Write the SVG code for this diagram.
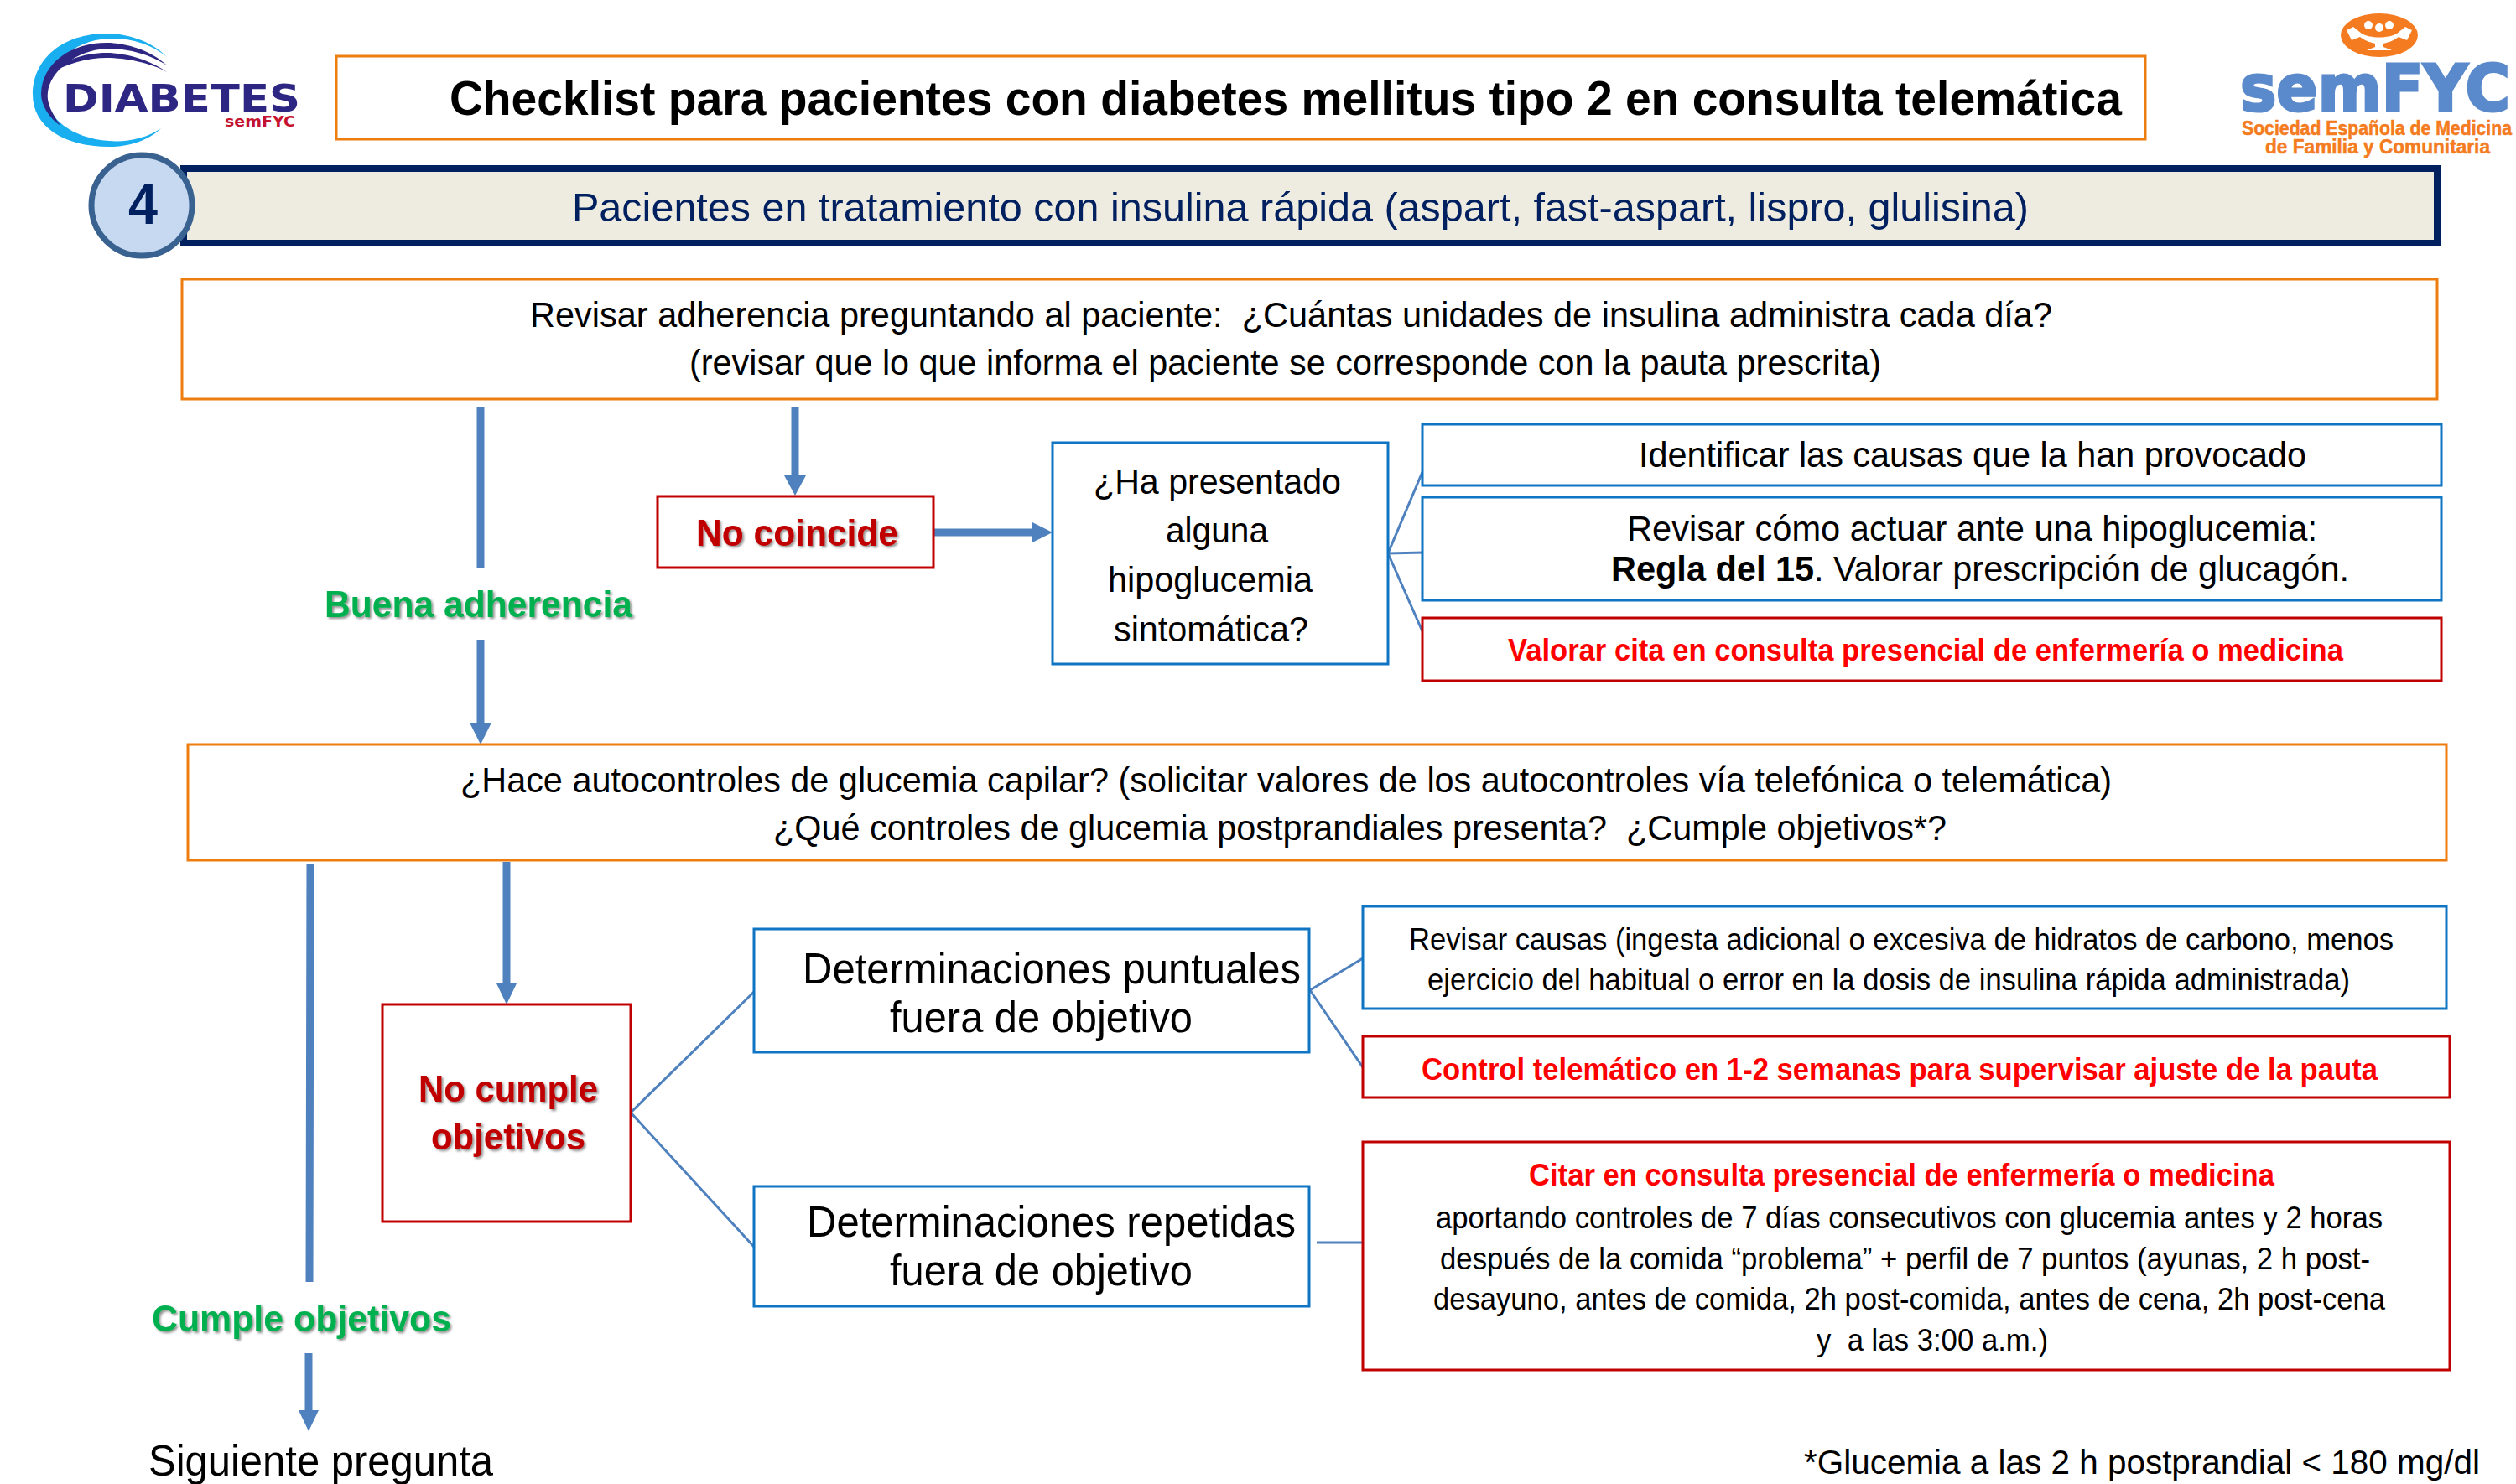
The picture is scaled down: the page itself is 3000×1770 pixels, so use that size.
<svg xmlns="http://www.w3.org/2000/svg" width="3000" height="1770" viewBox="0 0 3000 1770">
<style>
text{font-family:"Liberation Sans",Arial,sans-serif;fill:#000;white-space:pre}
.b{font-weight:700}
.dj{font-family:"DejaVu Sans",sans-serif;font-weight:700}
.o{fill:#fff;stroke:#ED7D0E;stroke-width:3}
.bl{fill:#fff;stroke:#0F75C3;stroke-width:3}
.r{fill:#fff;stroke:#C00000;stroke-width:3}
.t42{font-size:42px}
.t40{font-size:40px}
.t36{font-size:36px}
.t52{font-size:52px}
.red{fill:#FF0000;font-weight:700;font-size:36px}
.dr{fill:#C00000;font-weight:700;font-size:44px;filter:url(#sh)}
.gr{fill:#00B050;font-weight:700;font-size:44px;filter:url(#sh)}
.og{fill:#F47B20;font-weight:700;font-size:23px;stroke:#F47B20;stroke-width:.5}
.ar{fill:none;stroke:#4E81BD;stroke-width:9}
.th{fill:none;stroke:#4E81BD;stroke-width:3}
.hd{fill:#4E81BD}
</style>
<defs>
<filter id="sh" x="-10%" y="-20%" width="120%" height="140%"><feDropShadow dx="2" dy="2" stdDeviation="1.5" flood-color="#000" flood-opacity="0.45"/></filter>
</defs>
<g id="logo-diabetes">
<path d="M199 68C180 48 150 40 127 40C75 40 39 70 39 113C39 150 75 175 130 175C155 175 178 167 192 153C175 165 150 170 130 168C85 165 55 140 55 113C55 80 85 48 130 46C155 45 180 52 199 68Z" fill="#18AEEF"/>
<path d="M199 78C180 60 150 51 127 51C85 51 50 75 49 112C49 125 58 140 72 150C62 135 55 122 57 110C60 85 90 60 127 58C150 57 180 65 199 78Z" fill="#2E2683"/>
<path d="M199 86C180 72 150 63 127 63C100 63 75 72 60 88C78 76 105 69 127 69C150 69 180 75 199 86Z" fill="#2E2683"/>
<text x="75" y="133" font-size="45" class="dj" style="fill:#2E2683" textLength="283" lengthAdjust="spacingAndGlyphs">DIABETES</text>
<text x="268" y="151" font-size="17" class="dj" style="fill:#C4122F" textLength="84" lengthAdjust="spacingAndGlyphs">semFYC</text>
</g>
<g id="logo-semfyc">
<ellipse cx="2837" cy="42" rx="46" ry="26" fill="#F47B20"/>
<path d="M2798 36L2806 32L2816 40C2826 46 2848 46 2858 40L2868 32L2876 36L2870 48L2860 44C2852 50 2845 51 2842 52V56L2852 60H2822L2832 56V52C2829 51 2822 50 2814 44L2804 48Z" fill="#fff"/>
<circle cx="2824" cy="30" r="5" fill="#fff"/><circle cx="2837" cy="33" r="5" fill="#fff"/><circle cx="2849" cy="30" r="5" fill="#fff"/>
<text x="2671" y="132" font-size="77" class="dj" style="fill:#5A8ACB;stroke:#5A8ACB;stroke-width:3" textLength="322" lengthAdjust="spacingAndGlyphs">semFYC</text>
<text x="2673" y="161" class="og" textLength="322" lengthAdjust="spacingAndGlyphs">Sociedad Española de Medicina</text>
<text x="2701" y="183" class="og" textLength="268" lengthAdjust="spacingAndGlyphs">de Familia y Comunitaria</text>
</g>
<g id="connectors">
<path class="ar" d="M573 486V677M573 763V864M948 486V570M1114 635H1232M604 1028V1176M370 1030L369 1529M368 1614V1684"/>
<path class="hd" d="M560 862H586L573 888ZM935 567H961L948 591ZM1231 623L1255 635L1231 647ZM592 1173H616L604 1198ZM356 1682H380L368 1707Z"/>
<path class="th" d="M1696 563L1655 660L1698 659M1655 660L1696 753M752 1327L899 1183M752 1327L899 1487M1562 1181L1625 1143M1562 1181L1625 1273M1570 1482H1624"/>
</g>
<g id="title"><rect class="o" x="401" y="67" width="2157" height="99"/>
<text class="b" x="536" y="137" font-size="58" textLength="1994" lengthAdjust="spacingAndGlyphs">Checklist para pacientes con diabetes mellitus tipo 2 en consulta telemática</text></g>
<g id="banner"><rect x="219" y="201" width="2687" height="89" fill="#EEEBE0" stroke="#002060" stroke-width="8"/>
<text x="682" y="264" font-size="48" style="fill:#002060" textLength="1737" lengthAdjust="spacingAndGlyphs">Pacientes en tratamiento con insulina rápida (aspart, fast-aspart, lispro, glulisina)</text></g>
<g id="step"><circle cx="169" cy="245" r="60" fill="#C6D9F1" stroke="#3A6291" stroke-width="7"/>
<text x="153" y="267" class="b" font-size="68" style="fill:#002060" textLength="35" lengthAdjust="spacingAndGlyphs">4</text></g>
<g id="adherencia"><rect class="o" x="217" y="333" width="2689" height="143"/>
<text class="t42" x="632" y="390" textLength="1815" lengthAdjust="spacingAndGlyphs">Revisar adherencia preguntando al paciente:  ¿Cuántas unidades de insulina administra cada día?</text>
<text class="t42" x="822" y="447" textLength="1421" lengthAdjust="spacingAndGlyphs">(revisar que lo que informa el paciente se corresponde con la pauta prescrita)</text></g>
<g id="no-coincide"><rect class="r" x="784" y="592" width="329" height="85"/>
<text class="dr" x="830" y="651" textLength="241" lengthAdjust="spacingAndGlyphs">No coincide</text></g>
<g id="buena"><text class="gr" x="387" y="736" textLength="367" lengthAdjust="spacingAndGlyphs">Buena adherencia</text></g>
<g id="hipo"><rect class="bl" x="1255" y="528" width="400" height="264"/>
<text class="t42" x="1304" y="589" textLength="295" lengthAdjust="spacingAndGlyphs">¿Ha presentado</text>
<text class="t42" x="1390" y="647" textLength="122" lengthAdjust="spacingAndGlyphs">alguna</text>
<text class="t42" x="1321" y="706" textLength="244" lengthAdjust="spacingAndGlyphs">hipoglucemia</text>
<text class="t42" x="1328" y="765" textLength="232" lengthAdjust="spacingAndGlyphs">sintomática?</text></g>
<g id="identificar"><rect class="bl" x="1696" y="506" width="1215" height="73"/>
<text class="t42" x="1954" y="557" textLength="796" lengthAdjust="spacingAndGlyphs">Identificar las causas que la han provocado</text></g>
<g id="regla"><rect class="bl" x="1696" y="593" width="1215" height="123"/>
<text class="t42" x="1940" y="645" textLength="823" lengthAdjust="spacingAndGlyphs">Revisar cómo actuar ante una hipoglucemia:</text>
<text class="t42" x="1921" y="693" textLength="880" lengthAdjust="spacingAndGlyphs"><tspan class="b">Regla del 15</tspan>. Valorar prescripción de glucagón.</text></g>
<g id="valorar"><rect class="r" x="1696" y="737" width="1215" height="75"/>
<text class="red" x="1798" y="788" textLength="996" lengthAdjust="spacingAndGlyphs">Valorar cita en consulta presencial de enfermería o medicina</text></g>
<g id="autocontroles"><rect class="o" x="224" y="888" width="2693" height="138"/>
<text class="t42" x="549" y="945" textLength="1969" lengthAdjust="spacingAndGlyphs">¿Hace autocontroles de glucemia capilar? (solicitar valores de los autocontroles vía telefónica o telemática)</text>
<text class="t42" x="922" y="1002" textLength="1399" lengthAdjust="spacingAndGlyphs">¿Qué controles de glucemia postprandiales presenta?  ¿Cumple objetivos*?</text></g>
<g id="no-cumple"><rect class="r" x="456" y="1198" width="296" height="259"/>
<text class="dr" x="499" y="1314" textLength="214" lengthAdjust="spacingAndGlyphs">No cumple</text>
<text class="dr" x="514" y="1371" textLength="184" lengthAdjust="spacingAndGlyphs">objetivos</text></g>
<g id="puntuales"><rect class="bl" x="899" y="1108" width="662" height="147"/>
<text class="t52" x="957" y="1173" textLength="594" lengthAdjust="spacingAndGlyphs">Determinaciones puntuales</text>
<text class="t52" x="1061" y="1231" textLength="361" lengthAdjust="spacingAndGlyphs">fuera de objetivo</text></g>
<g id="repetidas"><rect class="bl" x="899" y="1415" width="662" height="143"/>
<text class="t52" x="962" y="1475" textLength="583" lengthAdjust="spacingAndGlyphs">Determinaciones repetidas</text>
<text class="t52" x="1061" y="1533" textLength="361" lengthAdjust="spacingAndGlyphs">fuera de objetivo</text></g>
<g id="causas"><rect class="bl" x="1625" y="1081" width="1292" height="122"/>
<text class="t36" x="1680" y="1133" textLength="1174" lengthAdjust="spacingAndGlyphs">Revisar causas (ingesta adicional o excesiva de hidratos de carbono, menos</text>
<text class="t36" x="1702" y="1181" textLength="1100" lengthAdjust="spacingAndGlyphs">ejercicio del habitual o error en la dosis de insulina rápida administrada)</text></g>
<g id="control"><rect class="r" x="1625" y="1236" width="1296" height="73"/>
<text class="red" x="1695" y="1288" textLength="1140" lengthAdjust="spacingAndGlyphs">Control telemático en 1-2 semanas para supervisar ajuste de la pauta</text></g>
<g id="citar"><rect class="r" x="1625" y="1362" width="1296" height="272"/>
<text class="red" x="1823" y="1414" textLength="889" lengthAdjust="spacingAndGlyphs">Citar en consulta presencial de enfermería o medicina</text>
<text class="t36" x="1712" y="1465" textLength="1129" lengthAdjust="spacingAndGlyphs">aportando controles de 7 días consecutivos con glucemia antes y 2 horas</text>
<text class="t36" x="1717" y="1514" textLength="1109" lengthAdjust="spacingAndGlyphs">después de la comida “problema” + perfil de 7 puntos (ayunas, 2 h post-</text>
<text class="t36" x="1709" y="1562" textLength="1135" lengthAdjust="spacingAndGlyphs">desayuno, antes de comida, 2h post-comida, antes de cena, 2h post-cena</text>
<text class="t36" x="2166" y="1611" textLength="276" lengthAdjust="spacingAndGlyphs">y  a las 3:00 a.m.)</text></g>
<g id="cumple"><text class="gr" x="181" y="1588" textLength="357" lengthAdjust="spacingAndGlyphs">Cumple objetivos</text></g>
<g id="siguiente"><text class="t52" x="177" y="1760" textLength="411" lengthAdjust="spacingAndGlyphs">Siguiente pregunta</text></g>
<g id="nota"><text class="t40" x="2151" y="1758" textLength="806" lengthAdjust="spacingAndGlyphs">*Glucemia a las 2 h postprandial &lt; 180 mg/dl</text></g>
</svg>
